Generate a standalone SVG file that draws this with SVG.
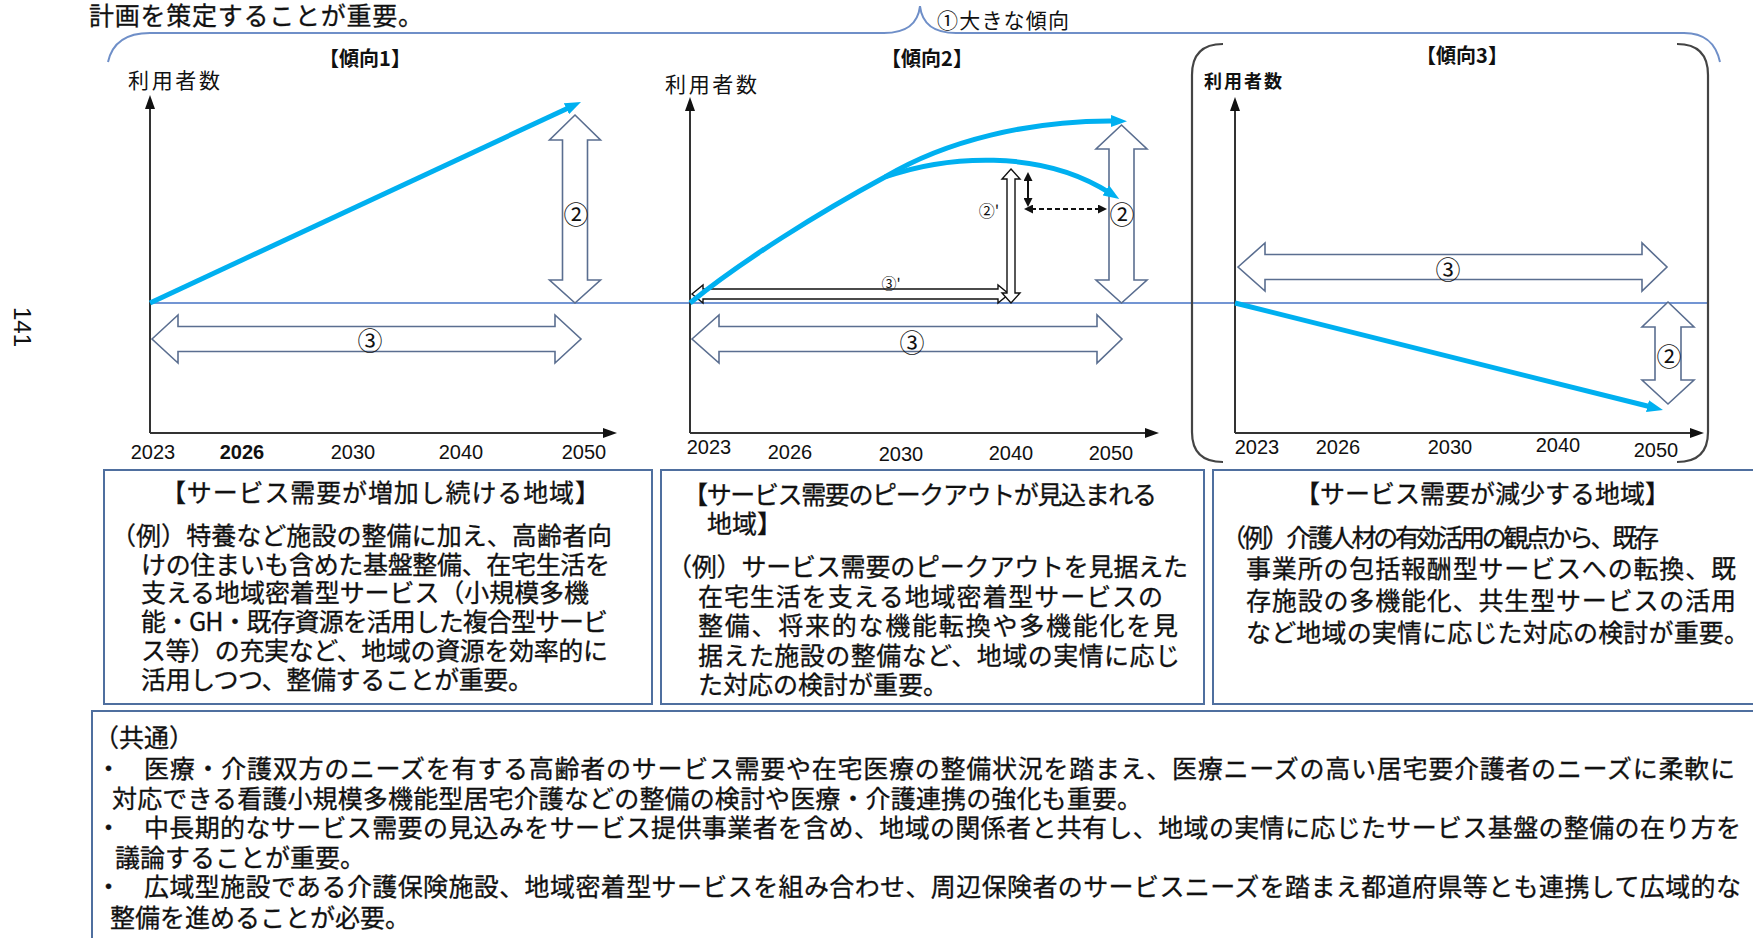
<svg xmlns="http://www.w3.org/2000/svg" width="1753" height="938" viewBox="0 0 1753 938">
<defs>
<style>
.jp{font-family:"Noto Sans CJK JP","Noto Sans CJK SC",sans-serif;fill:#111;dominant-baseline:central}
.b{font-size:25px;stroke:#111;stroke-width:0.3}
.yr{font-family:"Liberation Sans",Arial,sans-serif;font-size:20px;fill:#111;text-anchor:middle;dominant-baseline:central}
.ttl{font-size:20px;font-weight:bold;text-anchor:middle}
.axis{stroke:#333;stroke-width:2;fill:none}
.base{stroke:#4472c4;stroke-width:1.5;fill:none}
.blue{stroke:#00b0f0;stroke-width:5;fill:none}
.hollow{fill:#fff;stroke:#5a6e90;stroke-width:1.6}
.hollowk{fill:#fff;stroke:#111;stroke-width:1.4}
.circ{font-size:25px;text-anchor:middle}
.box{fill:#fff;stroke:#4f6f9f;stroke-width:2}
.brace{fill:none;stroke:#6f8fc8;stroke-width:2}
.bracket{fill:none;stroke:#444;stroke-width:2.2}
</style>
<marker id="ax" markerUnits="userSpaceOnUse" markerWidth="14" markerHeight="10" refX="3" refY="5" orient="auto"><path d="M0,0 L14,5 L0,10 Z" fill="#111"/></marker>
<marker id="bl" markerUnits="userSpaceOnUse" markerWidth="16" markerHeight="12" refX="5" refY="6" orient="auto"><path d="M0,0 L16,6 L0,12 Z" fill="#00b0f0"/></marker>
<marker id="bk" markerUnits="userSpaceOnUse" markerWidth="9" markerHeight="9" refX="2" refY="4.5" orient="auto-start-reverse"><path d="M0,0 L9,4.5 L0,9 Z" fill="#111"/></marker>
</defs>
<rect width="1753" height="938" fill="#fff"/>

<g id="page-top">
<text class="jp" x="89" y="14" font-size="25" textLength="334" style="stroke:#111;stroke-width:0.3">計画を策定することが重要。</text>
<text class="jp" x="22" y="327" font-size="24" text-anchor="middle" transform="rotate(90 22 327)" style="font-family:'Liberation Sans',Arial,sans-serif">141</text>
</g>

<g id="trend-brace">
<path class="brace" d="M108,62 C112,44 125,33 150,33 L884,33 C906,33 918,24 920,6 C922,24 934,33 956,33 L1684,33 C1706,33 1716,44 1720,62"/>
<text class="jp" x="937" y="19" font-size="21" textLength="132">①大きな傾向</text>
</g>

<g id="baseline">
<line class="base" x1="150" y1="303" x2="1708" y2="303"/>
</g>

<g id="chart1">
<text class="jp ttl" x="365" y="57">【傾向1】</text>
<text class="jp" x="128" y="79" font-size="21" textLength="92">利用者数</text>
<text class="yr" x="153" y="452">2023</text>
<text class="yr" x="242" y="452" font-weight="bold">2026</text>
<text class="yr" x="353" y="452">2030</text>
<text class="yr" x="461" y="452">2040</text>
<text class="yr" x="584" y="452">2050</text>
</g>

<g id="chart2">
<text class="jp ttl" x="927" y="57">【傾向2】</text>
<text class="jp" x="665" y="83" font-size="21" textLength="92">利用者数</text>
<text class="yr" x="709" y="447">2023</text>
<text class="yr" x="790" y="452">2026</text>
<text class="yr" x="901" y="454">2030</text>
<text class="yr" x="1011" y="453">2040</text>
<text class="yr" x="1111" y="453">2050</text>
</g>

<g id="chart3">
<path class="bracket" d="M1223,44 Q1192,44 1192,75 L1192,432 Q1192,462 1223,462"/>
<path class="bracket" d="M1677,44 Q1708,44 1708,75 L1708,432 Q1708,462 1677,462"/>
<text class="jp ttl" x="1462" y="54">【傾向3】</text>
<text class="jp" x="1204" y="80" font-size="18" textLength="78" font-weight="bold">利用者数</text>
<text class="yr" x="1257" y="447">2023</text>
<text class="yr" x="1338" y="447">2026</text>
<text class="yr" x="1450" y="447">2030</text>
<text class="yr" x="1558" y="445">2040</text>
<text class="yr" x="1656" y="450">2050</text>
</g>

<g id="connectors">
<path class="axis" d="M150,433 L150,106" marker-end="url(#ax)"/>
<path class="axis" d="M150,433 L606,433" marker-end="url(#ax)"/>
<path class="axis" d="M690,433 L690,108" marker-end="url(#ax)"/>
<path class="axis" d="M690,433 L1148,433" marker-end="url(#ax)"/>
<path class="axis" d="M1235,433 L1235,108" marker-end="url(#ax)"/>
<path class="axis" d="M1235,433 L1693,433" marker-end="url(#ax)"/>
<path class="hollow" d="M575,115 L600.5,140 L587.5,140 L587.5,280 L600.5,280 L575,303 L549.5,280 L562.5,280 L562.5,140 L549.5,140 Z"/>
<path class="hollow" d="M1121.5,125 L1147,149 L1134,149 L1134,280 L1147,280 L1121.5,303 L1096,280 L1109,280 L1109,149 L1096,149 Z"/>
<path class="hollow" d="M1668,302 L1694,327 L1681,327 L1681,380 L1694,380 L1668,404 L1642,380 L1655,380 L1655,327 L1642,327 Z"/>
<path class="hollow" d="M152,339 L178,315 L178,326.5 L555,326.5 L555,315 L581,339 L555,363 L555,351.5 L178,351.5 L178,363 Z"/>
<path class="hollow" d="M692,339 L719,315 L719,326.5 L1097,326.5 L1097,315 L1122,339 L1097,363 L1097,351.5 L719,351.5 L719,363 Z"/>
<path class="hollow" d="M1238,267 L1265,243 L1265,254.5 L1642,254.5 L1642,243 L1667,267 L1642,291 L1642,279.5 L1265,279.5 L1265,291 Z"/>
<path class="hollowk" d="M692,294 L703,285 L703,289 L998,289 L998,285 L1009,294 L998,303 L998,299 L703,299 L703,303 Z"/>
<path class="hollowk" d="M1011,169 L1020,179 L1015,179 L1015,293 L1020,293 L1011,303 L1002,293 L1007,293 L1007,179 L1002,179 Z"/>
<path d="M1028,179 L1028,200" stroke="#111" stroke-width="2" fill="none" marker-start="url(#bk)" marker-end="url(#bk)"/>
<path d="M1031,209 L1100,209" stroke="#111" stroke-width="2" stroke-dasharray="5,3" fill="none" marker-start="url(#bk)" marker-end="url(#bk)"/>
<path class="blue" d="M150,303 L571,106.7" marker-end="url(#bl)"/>
<path class="blue" d="M690,303 C740,262 820,212 885,177 C945,141 1030,120 1116,121" marker-end="url(#bl)"/>
<path class="blue" d="M885,177 C945,156 1040,148 1110,193" marker-end="url(#bl)"/>
<path class="blue" d="M1235,303 L1652.3,407.3" marker-end="url(#bl)"/>
<text class="jp circ" x="576" y="213">②</text>
<text class="jp circ" x="370" y="339">③</text>
<text class="jp circ" x="1122" y="213">②</text>
<text class="jp circ" x="912" y="341">③</text>
<text class="jp" x="989" y="210" font-size="16" text-anchor="middle">②'</text>
<text class="jp" x="891" y="282" font-size="15" text-anchor="middle">③'</text>
<text class="jp circ" x="1669" y="355">②</text>
<text class="jp circ" x="1448" y="268">③</text>
</g>

<g id="box-increase">
<rect class="box" x="104" y="470" width="548" height="234"/>
<text class="jp b" x="161" y="491" textLength="439">【サービス需要が増加し続ける地域】</text>
<text class="jp b" x="111" y="534" textLength="501">（例）特養など施設の整備に加え、高齢者向</text>
<text class="jp b" x="141" y="563" textLength="469">けの住まいも含めた基盤整備、在宅生活を</text>
<text class="jp b" x="141" y="591" textLength="448">支える地域密着型サービス（小規模多機</text>
<text class="jp b" x="141" y="620" textLength="467">能・GH・既存資源を活用した複合型サービ</text>
<text class="jp b" x="141" y="649" textLength="467">ス等）の充実など、地域の資源を効率的に</text>
<text class="jp b" x="141" y="678" textLength="392">活用しつつ、整備することが重要。</text>
</g>

<g id="box-peakout">
<rect class="box" x="661" y="470" width="543" height="234"/>
<text class="jp b" x="683" y="493" textLength="474">【サービス需要のピークアウトが見込まれる</text>
<text class="jp b" x="707" y="522">地域】</text>
<text class="jp b" x="667" y="565" textLength="521">（例）サービス需要のピークアウトを見据えた</text>
<text class="jp b" x="698" y="595" textLength="465">在宅生活を支える地域密着型サービスの</text>
<text class="jp b" x="698" y="624" textLength="480">整備、将来的な機能転換や多機能化を見</text>
<text class="jp b" x="698" y="654" textLength="482">据えた施設の整備など、地域の実情に応じ</text>
<text class="jp b" x="698" y="683">た対応の検討が重要。</text>
</g>

<g id="box-decrease">
<rect class="box" x="1213" y="470" width="560" height="234"/>
<text class="jp b" x="1295" y="492" textLength="375">【サービス需要が減少する地域】</text>
<text class="jp b" x="1221" y="536" textLength="438">（例）介護人材の有効活用の観点から、既存</text>
<text class="jp b" x="1246" y="567" textLength="490">事業所の包括報酬型サービスへの転換、既</text>
<text class="jp b" x="1246" y="599" textLength="490">存施設の多機能化、共生型サービスの活用</text>
<text class="jp b" x="1246" y="631" textLength="503">など地域の実情に応じた対応の検討が重要。</text>
</g>

<g id="box-common">
<rect class="box" x="92" y="711" width="1700" height="300"/>
<text class="jp b" x="94" y="736">（共通）</text>
<text class="jp b" y="767"><tspan x="96">・</tspan><tspan x="144" textLength="1591">医療・介護双方のニーズを有する高齢者のサービス需要や在宅医療の整備状況を踏まえ、医療ニーズの高い居宅要介護者のニーズに柔軟に</tspan></text>
<text class="jp b" x="112" y="797" textLength="1030">対応できる看護小規模多機能型居宅介護などの整備の検討や医療・介護連携の強化も重要。</text>
<text class="jp b" y="826"><tspan x="96">・</tspan><tspan x="144" textLength="1597">中長期的なサービス需要の見込みをサービス提供事業者を含め、地域の関係者と共有し、地域の実情に応じたサービス基盤の整備の在り方を</tspan></text>
<text class="jp b" x="115" y="856">議論することが重要。</text>
<text class="jp b" y="885"><tspan x="96">・</tspan><tspan x="144" textLength="1597">広域型施設である介護保険施設、地域密着型サービスを組み合わせ、周辺保険者のサービスニーズを踏まえ都道府県等とも連携して広域的な</tspan></text>
<text class="jp b" x="110" y="916">整備を進めることが必要。</text>
</g>
</svg>
